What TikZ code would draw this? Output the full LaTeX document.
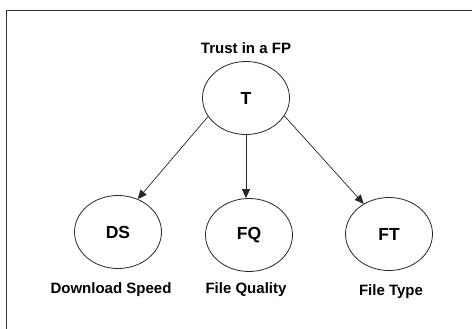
\documentclass[tikz,border=0pt]{standalone}
\usepackage{fontspec}
\setmainfont{Liberation Sans}
\usetikzlibrary{shapes.geometric,arrows.meta}
\tikzset{
  var/.style={ellipse,draw=black!85,line width=0.8pt,minimum width=87pt,minimum height=73pt,inner sep=0pt,font=\fontsize{17.5}{20}\selectfont\bfseries},
  lbl/.style={font=\fontsize{15}{18}\selectfont\bfseries,inner sep=0pt},
  arr/.style={draw=black!85,line width=0.7pt,-{Triangle[length=9pt,width=8pt]}},
  frame/.style={draw=black!80,line width=0.9pt}
}
\begin{document}
\begin{tikzpicture}[x=1pt,y=-1pt]
\useasboundingbox (0,0) rectangle (472,329);
\coordinate (fbl) at (6,329);
\coordinate (ftl) at (6,10);
\coordinate (ftr) at (472,10);
\draw[frame] (fbl) -- (ftl) -- (ftr);
\node[var] (T) at (246,98) {\raisebox{-2.5pt}{T}};
\node[var] (DS) at (118,232) {\raisebox{-4.5pt}{DS}};
\node[var] (FQ) at (249,235) {\raisebox{-3.5pt}{FQ}};
\node[var] (FT) at (389,234) {\raisebox{-4pt}{FT}};
\node[lbl] (tl) at (246,48) {Trust in a FP};
\node[lbl] (dsl) at (111,290) {Download Speed};
\node[lbl] (fql) at (246,290) {File Quality};
\node[lbl] (ftl2) at (391,292) {File Type};
\draw[arr] (T.206) -- (DS.59);
\draw[arr] (T.south) -- (T.south |- FQ.north);
\draw[arr] (T.335) -- (FT.130);
\end{tikzpicture}
\end{document}
